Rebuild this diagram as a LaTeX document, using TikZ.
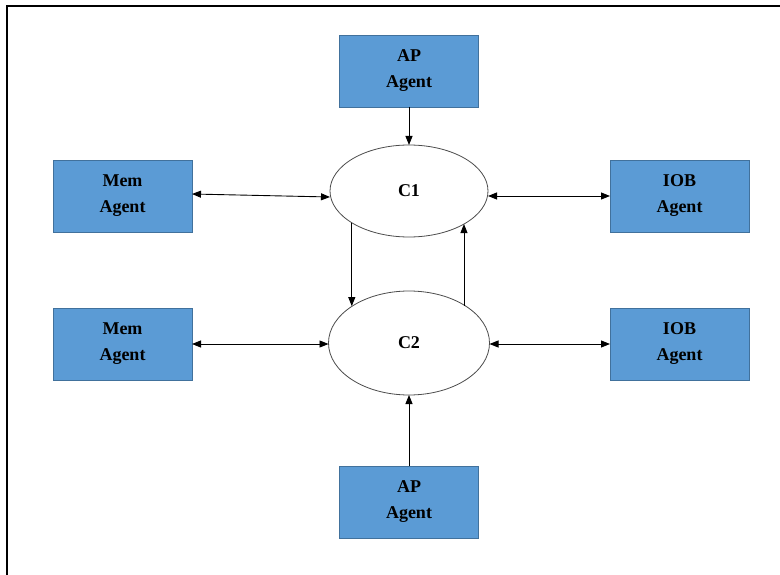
\documentclass[tikz,border=0pt]{standalone}
\usepackage{fontspec}
\setmainfont{Liberation Serif}
\usetikzlibrary{arrows.meta,shapes.geometric}
\definecolor{boxfill}{HTML}{5B9BD5}
\definecolor{boxline}{HTML}{41719C}
\tikzset{
  agent/.style={rectangle, fill=boxfill, draw=boxline, line width=0.8pt,
    minimum width=139pt, minimum height=72pt, inner sep=0pt, outer sep=0pt,
    align=center, font=\fontsize{18}{26}\selectfont\bfseries},
  ctrl/.style={ellipse, draw=black!70, line width=0.8pt, fill=white,
    inner sep=0pt, outer sep=0pt, font=\fontsize{18}{26}\selectfont\bfseries},
  conn/.style={line width=0.9pt, -{Triangle[length=9pt,width=7pt]}},
  biconn/.style={line width=0.9pt, {Triangle[length=9pt,width=7pt]}-{Triangle[length=9pt,width=7pt]}}
}
\begin{document}
\begin{tikzpicture}[x=1pt,y=-1pt]
\useasboundingbox (0,0) rectangle (780,575);
\draw[line width=2pt] (7,575) -- (7,6) -- (780,6);
\node[agent] (apT) at (409,71) {AP\\Agent};
\node[agent] (memT) at (122.5,196) {Mem\\Agent};
\node[agent] (iobT) at (679.5,196) {IOB\\Agent};
\node[agent] (memB) at (122.5,344) {Mem\\Agent};
\node[agent] (iobB) at (679.5,344) {IOB\\Agent};
\node[agent] (apB) at (409,502) {AP\\Agent};
\node[ctrl, minimum width=158pt, minimum height=92pt] (c1) at (409,191) {C1};
\node[ctrl, minimum width=161pt, minimum height=104pt] (c2) at (409,343) {C2};
\draw[conn] (apT.south) -- (c1.north);
\draw[conn] (apB.north) -- (c2.south);
\draw[biconn] ([yshift=2pt]memT.east) -- ([yshift=-6pt]c1.west);
\draw[biconn] (c1.east |- iobT.west) -- (iobT.west);
\draw[biconn] (memB.east) -- (c2.west |- memB.east);
\draw[biconn] (c2.east |- iobB.west) -- (iobB.west);
\draw[conn] (c1.209.3) -- (c1.209.3 |- c2.147.4);
\draw[conn] (c2.33.5 -| c1.329.9) -- (c1.329.9);
\end{tikzpicture}
\end{document}
